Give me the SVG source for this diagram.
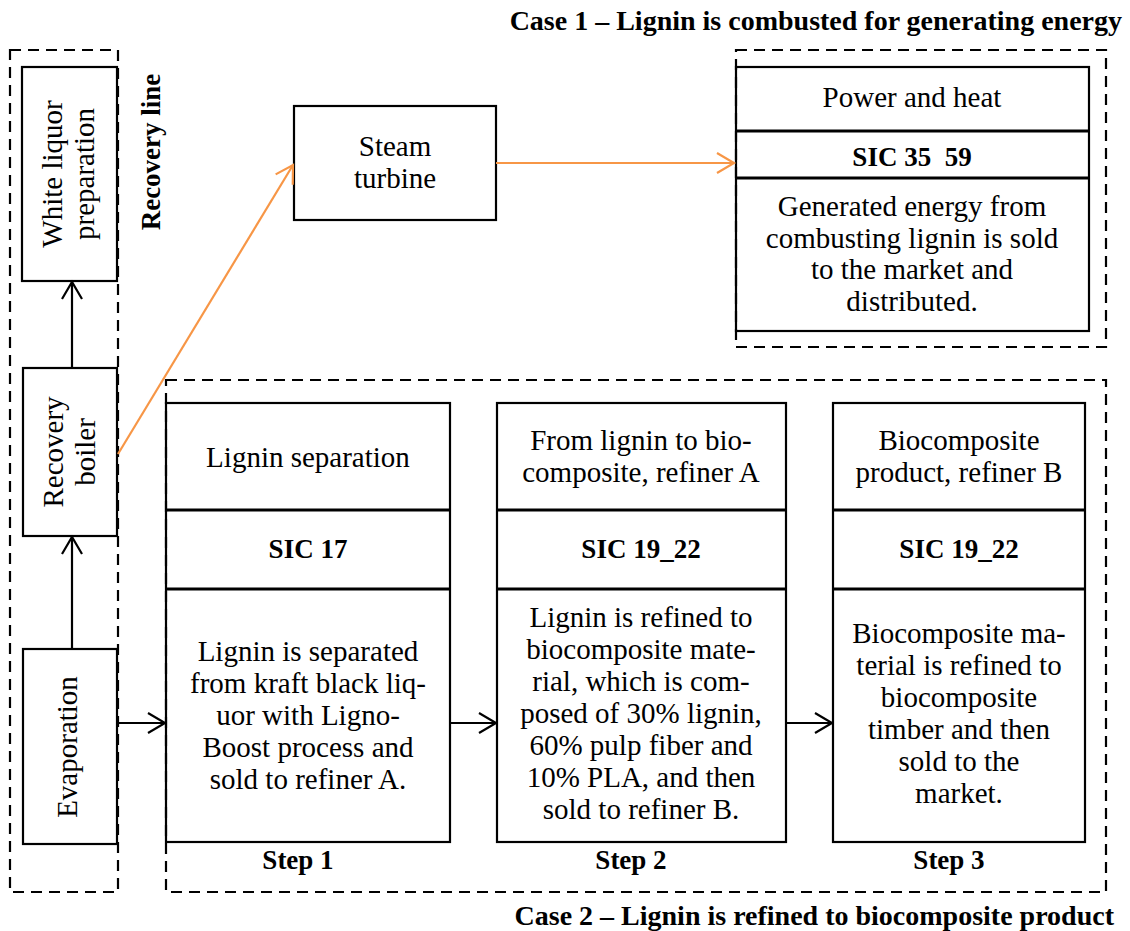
<svg xmlns="http://www.w3.org/2000/svg" width="1130" height="931" viewBox="0 0 1130 931">
  <style>
    .box { fill: #ffffff; stroke: #000000; stroke-width: 2.2; }
    .div { stroke: #000000; stroke-width: 3; }
    .dash { fill: none; stroke: #000000; stroke-width: 2.2; stroke-dasharray: 11 7; }
    .t { font-family: "Liberation Serif", "Times New Roman", serif; font-size: 29px; fill: #000000; text-anchor: middle; }
    .b { font-family: "Liberation Serif", "Times New Roman", serif; font-size: 27px; font-weight: bold; fill: #000000; text-anchor: middle; }
    .title { font-family: "Liberation Serif", "Times New Roman", serif; font-size: 28px; font-weight: bold; fill: #000000; text-anchor: end; }
    .link { fill: none; stroke: #000000; stroke-width: 2.2; }
    .hot { fill: none; stroke: #F79646; stroke-width: 2.2; }
  </style>
  <defs>
    <marker id="arrowBlack" markerUnits="userSpaceOnUse" markerWidth="24" markerHeight="24" refX="19" refY="11" orient="auto">
      <path d="M2,1 L19,11 L2,21" fill="none" stroke="#000000" stroke-width="2.2"/>
    </marker>
    <marker id="arrowOrange" markerUnits="userSpaceOnUse" markerWidth="24" markerHeight="24" refX="19" refY="11" orient="auto">
      <path d="M2,1 L19,11 L2,21" fill="none" stroke="#F79646" stroke-width="2.2"/>
    </marker>
  </defs>

  <rect width="1130" height="931" fill="#ffffff"/>

  <!-- Case titles -->
  <text class="title" x="1122" y="30">Case 1 – Lignin is combusted for generating energy</text>
  <text class="title" x="1114" y="925">Case 2 – Lignin is refined to biocomposite product</text>

  <!-- Recovery line column -->
  <g id="white-liquor">
    <rect class="box" x="22" y="67" width="95" height="214"/>
    <text class="t" transform="translate(62,174) rotate(-90)">White liquor</text>
    <text class="t" transform="translate(94,174) rotate(-90)">preparation</text>
  </g>
  <g id="recovery-boiler">
    <rect class="box" x="23" y="368" width="94" height="168"/>
    <text class="t" transform="translate(63,452) rotate(-90)">Recovery</text>
    <text class="t" transform="translate(95,452) rotate(-90)">boiler</text>
  </g>
  <g id="evaporation">
    <rect class="box" x="23" y="649" width="94" height="195"/>
    <text class="t" transform="translate(77,747) rotate(-90)">Evaporation</text>
  </g>
  <g id="recovery-line-label">
    <text class="b" font-size="28" transform="translate(160,152) rotate(-90)">Recovery line</text>
  </g>

  <!-- Steam turbine -->
  <g id="steam-turbine">
    <rect class="box" x="294" y="106" width="202" height="114"/>
    <text class="t" x="395" y="156">Steam</text>
    <text class="t" x="395" y="188">turbine</text>
  </g>

  <!-- Case 1: power and heat -->
  <g id="power-heat">
    <rect class="box" x="736" y="67" width="353" height="264"/>
    <line class="div" x1="736" y1="131" x2="1089" y2="131"/>
    <line class="div" x1="736" y1="178" x2="1089" y2="178"/>
    <text class="t" x="912" y="107">Power and heat</text>
    <text class="b" x="912" y="166" xml:space="preserve" style="white-space:pre">SIC 35  59</text>
    <text class="t" x="912" y="216">Generated energy from</text>
    <text class="t" x="912" y="248">combusting lignin is sold</text>
    <text class="t" x="912" y="279">to the market and</text>
    <text class="t" x="912" y="311">distributed.</text>
  </g>

  <!-- Case 2: refining steps -->
  <g id="step-1">
    <rect class="box" x="166" y="403" width="284" height="439"/>
    <line class="div" x1="166" y1="510" x2="450" y2="510"/>
    <line class="div" x1="166" y1="589" x2="450" y2="589"/>
    <text class="t" x="308" y="467">Lignin separation</text>
    <text class="b" x="308" y="558">SIC 17</text>
    <text class="t" x="308" y="661">Lignin is separated</text>
    <text class="t" x="308" y="693">from kraft black liq-</text>
    <text class="t" x="308" y="725">uor with Ligno-</text>
    <text class="t" x="308" y="757">Boost process and</text>
    <text class="t" x="308" y="789">sold to refiner A.</text>
    <text class="b" x="298" y="869">Step 1</text>
  </g>
  <g id="step-2">
    <rect class="box" x="497" y="403" width="289" height="439"/>
    <line class="div" x1="497" y1="510" x2="786" y2="510"/>
    <line class="div" x1="497" y1="589" x2="786" y2="589"/>
    <text class="t" x="641" y="450">From lignin to bio-</text>
    <text class="t" x="641" y="482">composite, refiner A</text>
    <text class="b" x="641" y="558">SIC 19_22</text>
    <text class="t" x="641" y="627">Lignin is refined to</text>
    <text class="t" x="641" y="659">biocomposite mate-</text>
    <text class="t" x="641" y="691">rial, which is com-</text>
    <text class="t" x="641" y="723">posed of 30% lignin,</text>
    <text class="t" x="641" y="755">60% pulp fiber and</text>
    <text class="t" x="641" y="787">10% PLA, and then</text>
    <text class="t" x="641" y="819">sold to refiner B.</text>
    <text class="b" x="631" y="869">Step 2</text>
  </g>
  <g id="step-3">
    <rect class="box" x="833" y="403" width="252" height="439"/>
    <line class="div" x1="833" y1="510" x2="1085" y2="510"/>
    <line class="div" x1="833" y1="589" x2="1085" y2="589"/>
    <text class="t" x="959" y="450">Biocomposite</text>
    <text class="t" x="959" y="482">product, refiner B</text>
    <text class="b" x="959" y="558">SIC 19_22</text>
    <text class="t" x="959" y="643">Biocomposite ma-</text>
    <text class="t" x="959" y="675">terial is refined to</text>
    <text class="t" x="959" y="707">biocomposite</text>
    <text class="t" x="959" y="739">timber and then</text>
    <text class="t" x="959" y="771">sold to the</text>
    <text class="t" x="959" y="803">market.</text>
    <text class="b" x="949" y="869">Step 3</text>
  </g>

  <!-- Dashed grouping frames -->
  <g id="frames">
    <rect class="dash" x="10" y="50" width="108" height="842"/>
    <rect class="dash" x="736" y="50" width="370" height="297"/>
    <rect class="dash" x="166" y="380" width="940" height="512"/>
  </g>

  <!-- Connectors -->
  <g id="connectors">
    <line class="link" x1="72" y1="649" x2="72" y2="537" marker-end="url(#arrowBlack)"/>
    <line class="link" x1="72" y1="368" x2="72" y2="282" marker-end="url(#arrowBlack)"/>
    <line class="link" x1="118" y1="723" x2="165" y2="723" marker-end="url(#arrowBlack)"/>
    <line class="link" x1="450" y1="723" x2="496" y2="723" marker-end="url(#arrowBlack)"/>
    <line class="link" x1="786" y1="723" x2="832" y2="723" marker-end="url(#arrowBlack)"/>
    <line class="hot" x1="118" y1="454" x2="293" y2="165" marker-end="url(#arrowOrange)"/>
    <line class="hot" x1="496" y1="163" x2="734" y2="163" marker-end="url(#arrowOrange)"/>
  </g>
</svg>
